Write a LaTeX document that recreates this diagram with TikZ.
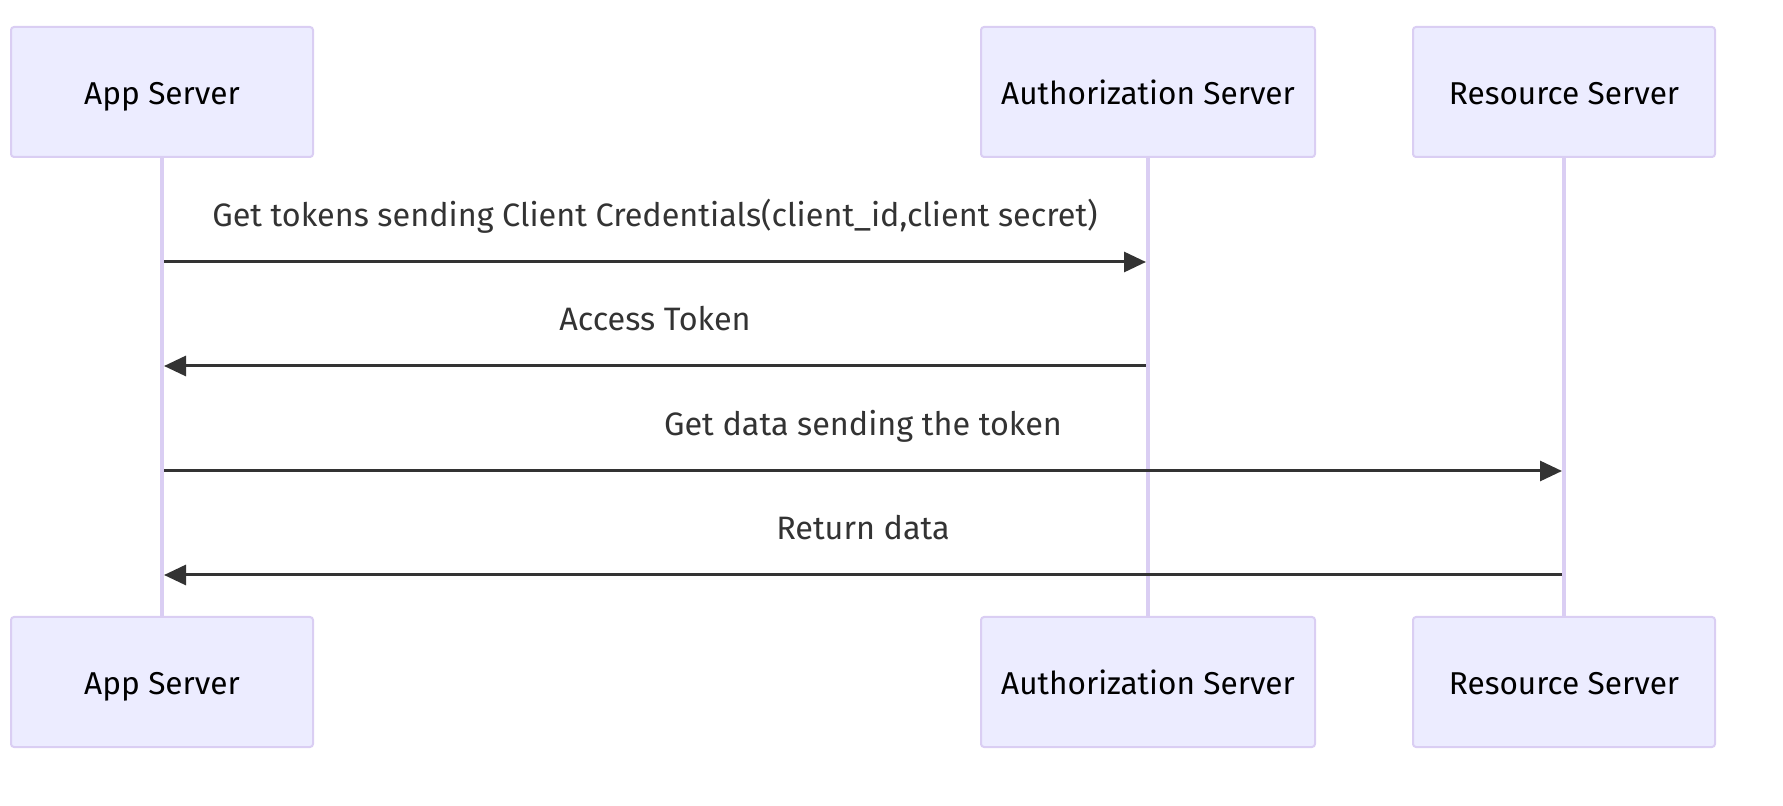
\documentclass[tikz,border=0pt]{standalone}
\usepackage{fontspec}
\setmainfont{Fira Sans}
\usepackage{tikz}
\usetikzlibrary{arrows.meta, positioning}
\usepackage{xcolor}
\definecolor{actorfill}{HTML}{ECECFF}
\definecolor{actorline}{HTML}{DACEF3}
\definecolor{msgcolor}{HTML}{333333}

\begin{document}
\begin{tikzpicture}[x=0.5pt, y=-0.5pt, >={Triangle[length=11pt, width=10pt]}]
    \tikzstyle{actor} = [draw=actorline, fill=actorfill, line width=1pt,
        rounded corners=1.5pt, minimum width=151pt, minimum height=65pt,
        inner sep=2pt, text height=16pt, text depth=3.4pt, text centered,
        font=\fontsize{15.8}{18}\selectfont]
    \tikzstyle{lifeline} = [draw=actorline, line width=2pt]
    \tikzstyle{msg} = [->, draw=msgcolor, line width=1.5pt,
        shorten >=1pt, shorten <=1pt]
    \tikzstyle{msglabel} = [anchor=base, yshift=17.5pt, text=msgcolor,
        font=\fontsize{16.2}{19}\selectfont]
    \useasboundingbox (0,0) rectangle (1783,806);
    % top row
    \node [actor] at (162,92) (app) {App Server};
    \node [actor, minimum width=167pt, right=333pt of app] (auth) {Authorization Server};
    \node [actor, right=48pt of auth] (res) {Resource Server};
    % bottom row
    \node [actor, below=229pt of app] (appb) {App Server};
    \node [actor, minimum width=167pt, below=229pt of auth] (authb) {Authorization Server};
    \node [actor, below=229pt of res] (resb) {Resource Server};
    \draw[lifeline] (app.south) -- (appb.north);
    \draw[lifeline] (auth.south) -- (authb.north);
    \draw[lifeline] (res.south) -- (resb.north);
    % messages
    \coordinate (m1) at (0,262);
    \coordinate (m2) at (0,366);
    \coordinate (m3) at (0,471);
    \coordinate (m4) at (0,575);
    \draw[msg] (app |- m1) -- node[msglabel] {Get tokens sending Client Credentials(client\_id,client secret)} (auth |- m1);
    \draw[msg] (auth |- m2) -- node[msglabel] {Access Token} (app |- m2);
    \draw[msg] (app |- m3) -- node[msglabel] {Get data sending the token} (res |- m3);
    \draw[msg] (res |- m4) -- node[msglabel] {Return data} (app |- m4);
\end{tikzpicture}
\end{document}
